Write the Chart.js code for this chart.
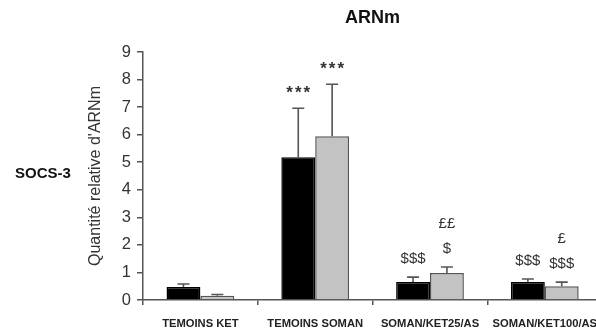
<!DOCTYPE html>
<html>
<head>
<meta charset="utf-8">
<script src="https://cdn.jsdelivr.net/npm/chart.js@4/dist/chart.umd.min.js"></script>
<style>
  html, body { margin: 0; padding: 0; background: #fff; width: 596px; height: 330px; overflow: hidden; }
  #w { position: relative; width: 610px; height: 330px; }
  canvas { display: block; }
</style>
</head>
<body>
<div id="w"><canvas id="myChart" width="610" height="330"></canvas></div>
<script>
// categories (x axis)
var categories = ['TEMOINS KET', 'TEMOINS SOMAN', 'SOMAN/KET25/AS', 'SOMAN/KET100/AS'];
// black bars
var serie1 = [0.47, 5.18, 0.65, 0.65];
var serie1Err = [0.11, 1.78, 0.18, 0.11];
var serie1Sig = [[], ['***'], ['$$$'], ['$$$']];
// grey bars
var serie2 = [0.15, 5.94, 0.98, 0.50];
var serie2Err = [0.05, 1.89, 0.22, 0.15];
var serie2Sig = [[], ['***'], ['$', '££'], ['$$$', '£']];
// y ticks
var yMin = 0, yMax = 9, yStep = 1;

var FONT = "'Liberation Sans', Arial, sans-serif";

// error bars (upper only) + significance marks
var errorBars = {
    id: 'errorBars',
    afterDatasetsDraw: function (chart) {
        var ctx = chart.ctx;
        var y = chart.scales.y;
        ctx.save();
        chart.data.datasets.forEach(function (ds, i) {
            var meta = chart.getDatasetMeta(i);
            meta.data.forEach(function (bar, j) {
                var top = y.getPixelForValue(ds.data[j] + ds.err[j]);
                ctx.strokeStyle = '#555';
                ctx.lineWidth = 1.6;
                ctx.beginPath();
                ctx.moveTo(bar.x, bar.y);
                ctx.lineTo(bar.x, top);
                ctx.moveTo(bar.x - 6, top);
                ctx.lineTo(bar.x + 6, top);
                ctx.stroke();
                ctx.fillStyle = '#333';
                ctx.textAlign = 'center';
                ctx.textBaseline = 'middle';
                var sy = top - 18;
                ds.sig[j].forEach(function (txt) {
                    if (txt.indexOf('*') >= 0) {
                        ctx.font = 'bold 17px ' + FONT;
                        ctx.letterSpacing = '2px';
                        ctx.fillText(txt, bar.x + 1, sy + 3);
                        ctx.letterSpacing = '0px';
                    } else {
                        ctx.font = '15px ' + FONT;
                        ctx.fillText(txt, bar.x, sy);
                    }
                    sy -= 25;
                });
            });
        });
        ctx.restore();
    },
    afterDraw: function (chart) {
        var ctx = chart.ctx;
        ctx.save();
        ctx.fillStyle = '#111';
        ctx.font = 'bold 15px ' + FONT;
        ctx.textAlign = 'left';
        ctx.textBaseline = 'middle';
        ctx.fillText('SOCS-3', 15, 174);
        ctx.restore();
    }
};

var ctx = document.getElementById('myChart').getContext('2d');
var myChart = new Chart(ctx, {
    type: 'bar',
    data: {
        labels: categories,
        datasets: [{
            label: 'Série 1',
            data: serie1,
            err: serie1Err,
            sig: serie1Sig,
            backgroundColor: '#000',
            borderColor: '#000',
            borderWidth: 1.5
        }, {
            label: 'Série 2',
            data: serie2,
            err: serie2Err,
            sig: serie2Sig,
            backgroundColor: '#c3c3c3',
            borderColor: '#555',
            borderWidth: 1.5
        }]
    },
    options: {
        responsive: false,
        animation: false,
        devicePixelRatio: 1,
        categoryPercentage: 0.59,
        barPercentage: 1,
        layout: { padding: { left: 85, right: 4, top: 0, bottom: 0 } },
        plugins: {
            legend: { display: false },
            tooltip: { enabled: false },
            title: {
                display: true,
                text: 'ARNm',
                fullSize: false,
                color: '#111',
                font: { family: FONT, size: 18, weight: 'bold' },
                padding: { top: 7, bottom: 23.4 }
            }
        },
        scales: {
            x: {
                grid: { drawOnChartArea: false, offset: true, tickLength: 5, color: '#555', lineWidth: 1.5 },
                border: { color: '#555', width: 1.5 },
                ticks: {
                    color: '#222',
                    padding: 12,
                    maxRotation: 0,
                    autoSkip: false,
                    font: { family: FONT, size: 11.2, weight: 'bold' }
                },
                afterFit: function (scale) { scale.height = 30; }
            },
            y: {
                min: yMin,
                max: yMax,
                grid: { drawOnChartArea: false, tickLength: 6, color: '#555', lineWidth: 1.5 },
                border: { color: '#555', width: 1.5 },
                ticks: {
                    stepSize: yStep,
                    color: '#333',
                    padding: 6,
                    font: { family: FONT, size: 16.5 }
                },
                title: {
                    display: true,
                    text: "Quantité relative d'ARNm",
                    color: '#333',
                    font: { family: FONT, size: 16 },
                    padding: { top: 1, bottom: 0 }
                },
                afterFit: function (scale) { scale.width = 58; }
            }
        }
    },
    plugins: [errorBars]
});
</script>
</body>
</html>
